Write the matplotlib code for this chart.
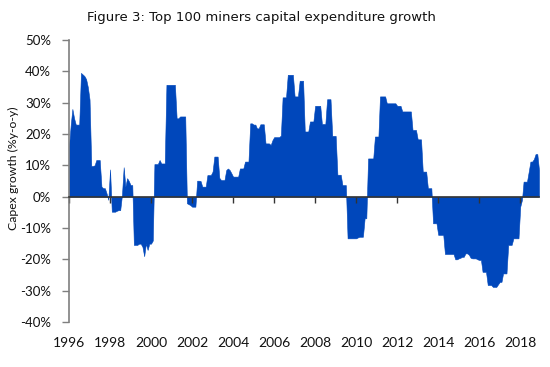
import matplotlib
matplotlib.use('Agg')
import matplotlib.pyplot as plt
import matplotlib.ticker as mticker
import pandas as pd

# monthly y-o-y capex growth (%), Jan 1996 - Dec 2018
capex_growth = [
    16, 23, 28, 25, 23, 23, 23, 39.5, 39, 38.5, 37.5, 35,                    # 1996
    31, 9.8, 9.8, 10, 11.7, 11.7, 11.7, 3.2, 2.7, 2.7, 1, -1,                # 1997
    8.7, -4.8, -4.8, -4.8, -4.5, -4.3, -4.3, 0.5, 9.4, 3.2, 5.9, 5,          # 1998
    3.7, 3.7, -15.4, -15.4, -15.4, -15, -15, -16, -19, -15, -17, -15,        # 1999
    -15, -14, 10.4, 10.4, 10.4, 11.7, 10.6, 10.6, 10.6, 35.7, 35.7, 35.7,    # 2000
    35.7, 35.7, 35.7, 25, 25, 25.6, 25.6, 25.6, 25.6, -2.1, -2.4, -2.7,      # 2001
    -3.2, -3.2, -3.2, 5.1, 5.1, 5, 3.2, 3.2, 3.2, 6.9, 6.9, 6.9,             # 2002
    8, 12.8, 12.8, 12.8, 6, 5.3, 5.3, 5.3, 8.5, 9, 8.5, 7.5,                 # 2003
    6.4, 6.4, 6.4, 6.4, 9, 9, 9, 11.2, 11.2, 11.2, 23.4, 23.4,               # 2004
    23, 23, 21.8, 21.8, 23.1, 23.1, 23.1, 17, 17, 17, 16.5, 18,              # 2005
    19, 19, 19, 19, 19.5, 31.7, 31.7, 31.7, 38.9, 38.9, 38.9, 38.9,          # 2006
    32, 32, 32, 37, 37, 37, 20.8, 20.8, 20.8, 24, 24, 24,                    # 2007
    29, 29, 29, 29, 23.2, 23.2, 23.2, 31.1, 31.1, 31.1, 19.4, 19.4,          # 2008
    19.4, 7, 7, 7, 3.7, 3.7, 3.7, -13.3, -13.3, -13.3, -13.3, -13.3,         # 2009
    -13.3, -13, -12.8, -12.8, -12.8, -6.9, -6.9, 12.2, 12.2, 12.2, 12.2, 19.2,  # 2010
    19.2, 19.2, 32, 32, 32, 32, 29.8, 29.8, 29.8, 29.8, 29.8, 29.8,          # 2011
    29, 29, 29, 27.2, 27.2, 27.2, 27.2, 27.2, 27.2, 21.3, 21.3, 21.3,        # 2012
    18.3, 18.3, 18.3, 8, 8, 8, 2.7, 2.7, 2.7, -8.5, -8.5, -8.5,              # 2013
    -12.2, -12.2, -12.2, -12.2, -18.3, -18.3, -18.3, -18.3, -18.3, -18.3, -20, -20,  # 2014
    -19.7, -19.5, -19.2, -19.2, -18.1, -18.1, -18.5, -19.5, -19.7, -19.7, -19.7, -20,  # 2015
    -20.2, -20.2, -24, -24, -24, -28.2, -28.2, -28.2, -28.8, -28.8, -28.8, -28,  # 2016
    -27.2, -27.2, -24.5, -24.5, -24.5, -15.4, -15.4, -15.4, -13.3, -13.3, -13.3, -13.3,  # 2017
    -3.2, -1, 4.8, 4.8, 4.8, 8, 11.2, 11.2, 12, 13.6, 13.6, 8.5,             # 2018
]
months = pd.date_range('1996-01-01', periods=len(capex_growth), freq='MS')

y_ticks = list(range(-40, 51, 10))
x_years = list(range(1996, 2019, 2))

title = 'Figure 3: Top 100 miners capital expenditure growth'
y_label = 'Capex growth (%y-o-y)'

fig = plt.figure(figsize=(5.5, 3.67), dpi=100)
ax = fig.add_axes([69 / 550, 1 - 322 / 367, 470 / 550, 282 / 367])

ax.fill_between(months, capex_growth, 0, color='#0047BB', linewidth=0.4,
                edgecolor='#0047BB')

ax.set_xlim(months[0], months[-1])
ax.set_ylim(-40, 50)

# y axis
ax.set_yticks(y_ticks)
ax.yaxis.set_major_formatter(mticker.FuncFormatter(lambda v, p: f'{v:.0f}%'))
ax.tick_params(axis='y', direction='out', length=5, width=1, color='#7f7f7f',
               pad=8, labelsize=9.5, labelcolor='#111111')
for lab in ax.get_yticklabels():
    lab.set_family('Lato')

for s in ['top', 'right']:
    ax.spines[s].set_visible(False)
ax.spines['left'].set_color('#7f7f7f')
ax.spines['left'].set_linewidth(1.2)

# x axis line sits at zero, labels at the bottom
year_ticks = [pd.Timestamp(f'{y}-01-01') for y in x_years]
ax.spines['bottom'].set_position(('data', 0))
ax.spines['bottom'].set_color('#333333')
ax.spines['bottom'].set_linewidth(1.2)
ax.set_xticks(year_ticks)
ax.tick_params(axis='x', direction='out', length=4, width=1, color='#333333',
               labelbottom=False)

sec = ax.secondary_xaxis('bottom')
sec.set_xticks(year_ticks)
sec.set_xticklabels([str(y) for y in x_years], family='Lato', fontsize=10,
                    color='#111111')
sec.tick_params(length=0, pad=11)
sec.spines['bottom'].set_visible(False)

fig.text(261 / 550, 1 - 17 / 367, title, ha='center', va='center',
         fontsize=9.5, family='DejaVu Sans', color='#111111')
fig.text(13 / 550, 1 - 168 / 367, y_label, ha='center', va='center',
         rotation=90, fontsize=8.8, family='Lato', color='#111111')

fig.savefig('out.png', dpi=100)
